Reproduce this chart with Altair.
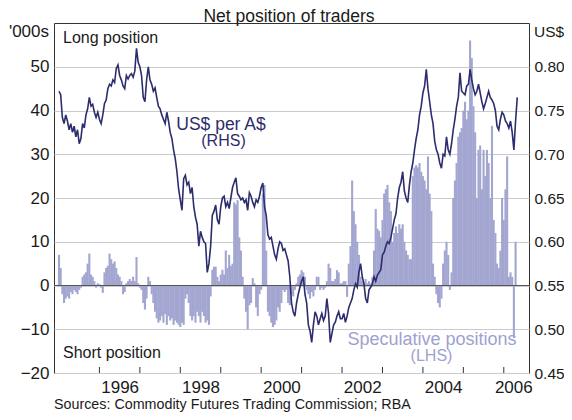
import altair as alt
import pandas as pd

# ---------------- data (half-monthly readings) ----------------
years = list(range(1995, 2007))

# US$ per A$ (RHS)
aud_1995 = [0.772, 0.768, 0.742, 0.735, 0.745, 0.738, 0.728, 0.735, 0.725, 0.732, 0.720, 0.728,
            0.712, 0.718, 0.735, 0.730, 0.745, 0.752, 0.765, 0.755, 0.757, 0.748, 0.742, 0.748]
aud_1996 = [0.740, 0.735, 0.745, 0.758, 0.762, 0.775, 0.780, 0.778, 0.785, 0.782, 0.798, 0.802,
            0.790, 0.785, 0.778, 0.775, 0.790, 0.786, 0.790, 0.792, 0.788, 0.795, 0.821, 0.805]
aud_1997 = [0.800, 0.790, 0.765, 0.760, 0.785, 0.800, 0.785, 0.780, 0.772, 0.776, 0.765, 0.755,
            0.752, 0.745, 0.740, 0.735, 0.748, 0.738, 0.725, 0.718, 0.705, 0.695, 0.680, 0.660]
aud_1998 = [0.648, 0.636, 0.672, 0.676, 0.665, 0.668, 0.655, 0.662, 0.640, 0.628, 0.620, 0.595,
            0.612, 0.605, 0.600, 0.598, 0.565, 0.575, 0.595, 0.630, 0.635, 0.642, 0.625, 0.620]
aud_1999 = [0.640, 0.650, 0.652, 0.640, 0.645, 0.638, 0.650, 0.662, 0.668, 0.673, 0.655, 0.652,
            0.648, 0.650, 0.645, 0.648, 0.636, 0.656, 0.652, 0.645, 0.640, 0.648, 0.645, 0.652]
aud_2000 = [0.662, 0.667, 0.640, 0.630, 0.608, 0.603, 0.605, 0.595, 0.585, 0.580, 0.592, 0.600,
            0.598, 0.590, 0.592, 0.585, 0.578, 0.560, 0.530, 0.520, 0.515, 0.530, 0.540, 0.548]
aud_2001 = [0.555, 0.560, 0.540, 0.530, 0.505, 0.498, 0.485, 0.505, 0.520, 0.515, 0.505, 0.512,
            0.518, 0.510, 0.515, 0.535, 0.518, 0.485, 0.495, 0.505, 0.508, 0.515, 0.520, 0.512]
aud_2002 = [0.512, 0.518, 0.508, 0.515, 0.525, 0.530, 0.535, 0.545, 0.552, 0.548, 0.565, 0.575,
            0.560, 0.552, 0.535, 0.530, 0.545, 0.548, 0.552, 0.560, 0.555, 0.562, 0.565, 0.568]
aud_2003 = [0.585, 0.588, 0.595, 0.600, 0.598, 0.605, 0.615, 0.625, 0.632, 0.650, 0.662, 0.668,
            0.680, 0.658, 0.650, 0.645, 0.665, 0.680, 0.690, 0.705, 0.718, 0.728, 0.745, 0.755]
aud_2004 = [0.770, 0.778, 0.797, 0.775, 0.760, 0.745, 0.735, 0.715, 0.705, 0.700, 0.690, 0.684,
            0.700, 0.698, 0.720, 0.705, 0.700, 0.712, 0.728, 0.740, 0.755, 0.765, 0.793, 0.772]
aud_2005 = [0.770, 0.768, 0.778, 0.780, 0.797, 0.785, 0.775, 0.768, 0.772, 0.780, 0.770, 0.760,
            0.752, 0.758, 0.765, 0.772, 0.765, 0.762, 0.758, 0.750, 0.732, 0.728, 0.740, 0.748]
aud_2006 = [0.745, 0.738, 0.735, 0.730, 0.738, 0.725, 0.705, 0.738, 0.765]

# Speculative positions, '000s (LHS)
pos_1995 = [7, 4, -2, -4, -3, -2.5, -3, -1.5, -2, -1, -1.5, -2,
            -1, -0.5, 2, 2.5, 3, 5, 7.3, 2.5, 2, 1, -0.5, 0.5]
pos_1996 = [0.3, -0.5, -1.7, 3, 4, 4.5, 7.3, 6, 5, 5.5, 4, 2.5,
            2, 1, -2, -1.5, 0.5, 1, 1.5, 1, 2, 1, 6.5, 0.5]
pos_1997 = [-0.5, -1, -4, -5.5, -3, 2, 1, -2, -4, -6, -7.5, -8.5,
            -8, -7, -8.5, -6.5, -9, -7, -8, -7.5, -9, -8, -8.5, -9]
pos_1998 = [-9.5, -8.5, -9, -3, -2, -4, -7, -8, -7, -8.5, -6, -7,
            -8.5, -6, -7, -8.5, -8, -9, -2.5, 3.6, 4.3, 4.3, 2, 1]
pos_1999 = [2.5, 3.6, 2.5, 8, 4, 7, 4.5, 5, 19, 18.5, 19.5, 11,
            8, 2, -3, -6, -10, -4.5, -4, 1.7, 0.5, -5, -7, -2]
pos_2000 = [-1, 21, 23, 8, -6, -7, -8.5, -9.5, -9, -8, -5, -6,
            -4, -1, -1.5, -1, -4, -4.5, -2, -2.5, -1, 0.5, 2, 2.5]
pos_2001 = [3.5, 3, 2, -1, -2, -3, -1.5, -2.5, -1, 2, 2, -1,
            -0.5, -1, -0.5, 1, 5, 4, 1, 1, 1.5, 3.5, 3, 0.5]
pos_2002 = [0.5, 1, 1, -2.6, 5, 9, 24, 17, 14, 10, 7, 2,
            1, 0.5, 1.5, 0.5, 1, 0.5, 2, 8, 17.5, 13, 12.5, 11]
pos_2003 = [15, 21, 22, 23, 19, 17, 10, 12, 13.5, 12, 14, 13,
            14, 10, 8, 7, 6, 6, 25, 27, 27.5, 27, 28, 26]
pos_2004 = [25, 24, 22, 29.5, 21, 17, 5, 2, -2, -4, -5, -3,
            5, 8, 10, 7, -1, 3, 20, 24, 28, 34, 35, 36]
pos_2005 = [40, 42, 38, 40, 56, 52, 41, 35, 20, 31, 32, 22,
            31, 25, 31, 28, 20, 36.5, 15, 12, 5, 4, 8, 20]
pos_2006 = [15, 22, 29.5, 2, 3, 2, -12, 10]

aud_lists = [aud_1995, aud_1996, aud_1997, aud_1998, aud_1999, aud_2000,
             aud_2001, aud_2002, aud_2003, aud_2004, aud_2005, aud_2006]
pos_lists = [pos_1995, pos_1996, pos_1997, pos_1998, pos_1999, pos_2000,
             pos_2001, pos_2002, pos_2003, pos_2004, pos_2005, pos_2006]

left_ticks = [-20, -10, 0, 10, 20, 30, 40, 50]
right_ticks = [0.45, 0.50, 0.55, 0.60, 0.65, 0.70, 0.75, 0.80]
label_years = [1996, 1998, 2000, 2002, 2004]
last_label_year = [2006]
tick_years = list(range(1996, 2007))


def to_frame(lists):
    rows = []
    for yr, vals in zip(years, lists):
        for k, v in enumerate(vals):
            rows.append({"t": yr + k / 24.0, "v": v})
    return pd.DataFrame(rows)


aud_df = to_frame(aud_lists)
pos_df = to_frame(pos_lists)
tick_df = pd.DataFrame({"t": tick_years})
one = pd.DataFrame({"a": [0]})

# ---------------- styling ----------------
W, H = 475, 350
FONT = "Liberation Sans"
LINE = "#2C2D6C"
BAR = "#A3A6D0"
SPEC_TXT = "#9EA1D0"
TXT = "#1a1a1a"
TICK_FS = 17
RIGHT_FS = 15.5

x_scale = alt.Scale(domain=[1995, 2006.5], nice=False, zero=False)
X = alt.X("t:Q", scale=x_scale, axis=None)

bars = alt.Chart(pos_df).mark_bar(color=BAR, width=2.1, clip=True).encode(
    x=X,
    y=alt.Y("v:Q", scale=alt.Scale(domain=[-20, 60], nice=False, zero=False),
            axis=alt.Axis(orient="left", values=left_ticks, title=None, grid=True,
                          gridColor="#c9cbce", gridWidth=1, ticks=False, domain=False,
                          labelFontSize=TICK_FS, labelFont=FONT, labelColor=TXT,
                          labelPadding=5)),
)

zero = alt.Chart(one).mark_rule(color="#555555", strokeWidth=1.2).encode(y=alt.datum(0))

ticks = alt.Chart(tick_df).mark_rule(color="#333333", strokeWidth=1).encode(
    x=X, y=alt.value(H), y2=alt.value(H - 6),
)

left = alt.layer(bars, zero, ticks)

line = alt.Chart(aud_df).mark_line(color=LINE, strokeWidth=1.6, clip=True).encode(
    x=X,
    y=alt.Y("v:Q", scale=alt.Scale(domain=[0.45, 0.85], nice=False, zero=False),
            axis=alt.Axis(orient="right", values=right_ticks, format=".2f", title=None,
                          grid=False, ticks=False, domain=False, labelFontSize=RIGHT_FS,
                          labelFont=FONT, labelColor=TXT, labelPadding=5)),
)

# year labels sit in the middle of each year
year_labels = alt.Chart(pd.DataFrame({"t": label_years})).mark_text(
    dx=20.7, align="center", baseline="alphabetic", font=FONT, fontSize=TICK_FS, color=TXT
).encode(x=X, y=alt.value(H + 20), text=alt.Text("t:Q", format="d"))

year_last = alt.Chart(pd.DataFrame({"t": last_label_year})).mark_text(
    dx=10, align="center", baseline="alphabetic", font=FONT, fontSize=TICK_FS, color=TXT
).encode(x=X, y=alt.value(H + 20), text=alt.Text("t:Q", format="d"))


def label(text, x, y, align="left", size=16, color=TXT):
    return alt.Chart(one).mark_text(
        text=text, align=align, baseline="alphabetic", font=FONT,
        fontSize=size, color=color,
    ).encode(x=alt.value(x), y=alt.value(y))


texts = [
    label("Net position of traders", 235, -1.5, align="center", size=17.5),
    label("'000s", -5, 14, align="right", size=TICK_FS),
    label("US$", 480, 14, align="left", size=RIGHT_FS),
    label("Long position", 9, 20),
    label("Short position", 9, 335),
    label("US$ per A$", 167, 106.5, align="center", size=17.5, color=LINE),
    label("(RHS)", 169.5, 123, align="center", size=16, color=LINE),
    label("Speculative positions", 378, 321.5, align="center", size=18, color=SPEC_TXT),
    label("(LHS)", 377.5, 338, align="center", size=16, color=SPEC_TXT),
    label("Sources:  Commodity Futures Trading Commission; RBA", 0, 385.5, size=14.3),
]

chart = alt.layer(left, line, year_labels, year_last, *texts).resolve_scale(
    y="independent"
).properties(
    width=W, height=H,
    autosize=alt.AutoSizeParams(type="none"),
    padding={"left": 46, "top": 15, "right": 35, "bottom": 39},
).configure_view(stroke="#333333", strokeWidth=1)

chart.save("out.html", embed_options={"renderer": "svg", "actions": False})
